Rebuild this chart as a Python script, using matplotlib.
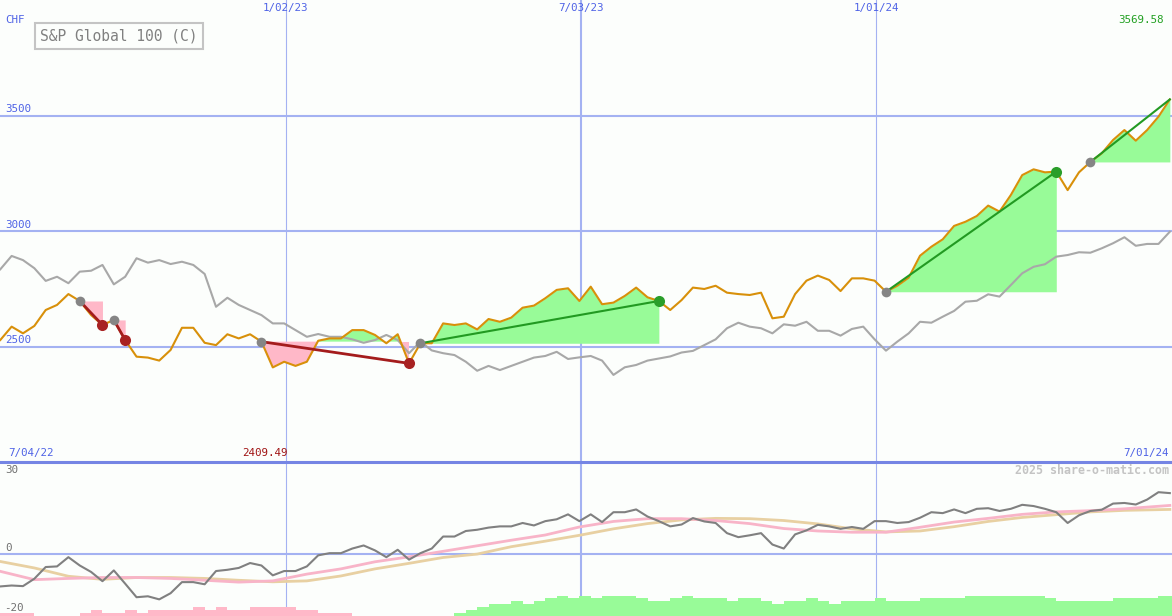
import matplotlib
matplotlib.use("Agg")
import matplotlib.pyplot as plt
import matplotlib.dates as mdates
from matplotlib.lines import Line2D
import numpy as np
import pandas as pd

# weekly closes, S&P Global 100 in CHF
dates = pd.date_range("2022-07-10", periods=104, freq="7D")

price = [2528, 2586, 2557, 2589, 2658, 2680, 2727, 2697, 2636, 2593,
         2615, 2528, 2456, 2452, 2439, 2485, 2581, 2581, 2516, 2506,
         2553, 2535, 2553, 2521, 2409.49, 2434, 2416, 2434, 2525, 2535,
         2535, 2571, 2571, 2550, 2514, 2553, 2427, 2514, 2514, 2600,
         2593, 2600, 2574, 2619, 2607, 2625, 2668, 2677, 2709, 2745,
         2752, 2697, 2759, 2683, 2690, 2719, 2755, 2713, 2697, 2658,
         2701, 2755, 2749, 2763, 2733, 2727, 2723, 2733, 2622, 2629,
         2727, 2785, 2807, 2788, 2740, 2795, 2795, 2785, 2737, 2763,
         2798, 2893, 2932, 2964, 3022, 3040, 3065, 3110, 3084, 3156,
         3242, 3267, 3254, 3257, 3177, 3254, 3299, 3336, 3394, 3437,
         3391, 3437, 3495, 3569.58]

# comparison line (grey) on the same scale
bench = [2834, 2892, 2874, 2839, 2784, 2802, 2774, 2824, 2828, 2853,
         2769, 2802, 2882, 2863, 2874, 2857, 2867, 2853, 2814, 2672,
         2711, 2680, 2658, 2636, 2600, 2600, 2571, 2542, 2554, 2542,
         2542, 2531, 2516, 2528, 2550, 2528, 2471, 2521, 2483, 2471,
         2463, 2434, 2395, 2416, 2398, 2416, 2434, 2452, 2459, 2477,
         2446, 2453, 2459, 2439, 2377, 2410, 2420, 2439, 2448, 2457,
         2474, 2481, 2506, 2531, 2579, 2603, 2586, 2579, 2557, 2596,
         2590, 2607, 2568, 2568, 2547, 2576, 2586, 2531, 2482, 2521,
         2557, 2607, 2603, 2629, 2654, 2694, 2698, 2726, 2716, 2766,
         2817, 2845, 2856, 2889, 2896, 2908, 2906, 2925, 2947, 2973,
         2936, 2944, 2944, 2997]

# lower panel
momentum = [-10.4, -10.1, -10.3, -7.9, -4.1, -3.9, -0.9, -3.6, -5.7, -8.7,
            -5.2, -9.5, -13.9, -13.6, -14.6, -12.6, -9.0, -9.0, -9.7, -5.4,
            -5.0, -4.4, -2.8, -3.6, -6.8, -5.4, -5.4, -3.9, -0.3, 0.4,
            0.4, 1.9, 2.9, 1.3, -0.9, 1.5, -1.7, 0.4, 1.9, 5.8,
            5.8, 7.6, 8.0, 8.7, 9.1, 9.1, 10.2, 9.4, 10.8, 11.4,
            13.0, 10.8, 13.0, 10.5, 13.7, 13.7, 14.6, 12.3, 10.8, 9.1,
            9.7, 11.8, 10.7, 10.2, 6.9, 5.6, 6.2, 6.9, 3.2, 1.9,
            6.5, 7.8, 9.6, 9.1, 8.3, 8.9, 8.3, 10.8, 10.8, 10.2,
            10.5, 11.9, 13.7, 13.4, 14.6, 13.4, 14.8, 15.0, 14.1, 14.8,
            16.1, 15.7, 14.8, 13.7, 10.2, 12.7, 14.1, 14.5, 16.5, 16.7,
            16.2, 17.8, 20.2, 19.9]

ma_idx = [0, 3, 6, 9, 12, 15, 18, 21, 24, 27, 30, 33, 36, 39, 42, 45, 48, 51,
          54, 57, 60, 63, 66, 69, 72, 75, 78, 81, 84, 87, 90, 93, 96, 99, 103]
ma_fast = [-5.5, -8.2, -7.8, -7.5, -7.5, -7.8, -8.4, -9.0, -8.6, -6.4, -4.7,
           -2.4, -0.8, 1.0, 2.8, 4.6, 6.3, 8.9, 10.7, 11.6, 11.6, 11.0, 10.0,
           8.4, 7.6, 7.2, 7.2, 8.8, 10.5, 11.7, 13.0, 13.8, 14.2, 14.8, 15.9]
ma_slow = [-2.3, -4.4, -7.1, -8.1, -7.5, -7.5, -7.8, -8.4, -8.9, -8.6, -7.0,
           -4.7, -2.9, -1.0, 0.1, 2.5, 4.3, 6.2, 8.3, 10.0, 11.2, 11.7, 11.6,
           11.0, 9.9, 8.3, 7.3, 7.6, 9.0, 10.7, 12.0, 12.9, 13.8, 14.3, 14.6]

# histogram at the floor of the lower panel (negative = pink)
bars = [-1, -1, -1, 0, 0, 0, 0, -1, -2, -1,
        -1, -2, -1, -2, -2, -2, -2, -3, -2, -3,
        -2, -2, -3, -3, -3, -3, -2, -2, -1, -1,
        -1, 0, 0, 0, 0, 0, 0, 0, 0, 0,
        1, 2, 3, 3.9, 3.9, 4.8, 3.9, 4.8, 5.7, 6.5,
        5.7, 6.5, 5.7, 6.5, 6.5, 6.5, 5.7, 4.8, 4.8, 5.7,
        6.5, 5.7, 5.7, 5.7, 4.8, 5.7, 5.7, 4.8, 3.9, 4.8,
        4.8, 5.7, 4.8, 3.9, 4.8, 4.8, 4.8, 5.7, 4.8, 4.8,
        4.8, 5.7, 5.7, 5.7, 5.7, 6.5, 6.5, 6.5, 6.5, 6.5,
        6.5, 6.5, 5.7, 4.8, 4.8, 4.8, 4.8, 4.8, 5.7, 5.7,
        5.7, 5.7, 6.5, 6.5]

# (entry week, exit week); None = still open
trades = [(7, 9), (10, 11), (23, 36), (37, 58), (78, 93), (96, None)]

price_ticks = [2500, 3000, 3500]
grid_dates = ["2023-01-02", "2023-07-03", "2024-01-01"]
grid_labels = ["1/02/23", "7/03/23", "1/01/24"]
start_label, end_label = "7/04/22", "7/01/24"

bg = "#fcfefc"
grid_c = "#a4b2f2"
blue_txt = "#4f63e6"
mono = "DejaVu Sans Mono"
W, H = 1172, 616

x = mdates.date2num(dates)
price_a = np.array(price)

fig = plt.figure(figsize=(W / 100, H / 100), dpi=100)
fig.patch.set_facecolor(bg)
ax = fig.add_axes([0, 0.25, 1, 0.75])
ax2 = fig.add_axes([0, 0, 1, 0.25], sharex=ax)
for a in (ax, ax2):
    a.set_facecolor(bg)
    for s in a.spines.values():
        s.set_visible(False)
    a.tick_params(left=False, bottom=False, labelleft=False, labelbottom=False)

ax.set_xlim(mdates.date2num(pd.Timestamp("2022-07-09 20:00")),
            mdates.date2num(pd.Timestamp("2024-07-01 08:00")))
ax.set_ylim(2000, 4000)
ax2.set_ylim(-20, 30)

# grid
for v in price_ticks:
    ax.axhline(v, color=grid_c, lw=1.5, zorder=0)
ax2.axhline(0, color=grid_c, lw=1.5, zorder=0)
for d in grid_dates:
    t = pd.Timestamp(d)
    lw = 1.5 if t.month == 7 else 0.8
    for a in (ax, ax2):
        a.axvline(mdates.date2num(t), color=grid_c, lw=lw, zorder=0)

# separator between the panels
fig.add_artist(Line2D([0, 1], [0.25, 0.25], transform=fig.transFigure,
                      color="#7585e4", lw=2.2, zorder=10))

# trades
for ent, ext in trades:
    end = ext if ext is not None else len(price) - 1
    level = price[ent]
    xs = x[ent:end + 1]
    ps = price_a[ent:end + 1]
    ax.fill_between(xs, level, ps, where=ps >= level, interpolate=True,
                    color="#98fb98", lw=0, zorder=1)
    ax.fill_between(xs, level, ps, where=ps <= level, interpolate=True,
                    color="#ffb8c8", lw=0, zorder=1)
    win = price[end] > level
    line_c = "#229a22" if win else "#a41c1c"
    ax.plot([x[ent], x[end]], [level, price[end]], color=line_c,
            lw=1.5 if win else 2.0, zorder=4)
    ax.plot(x[ent], level, "o", color="#858585", ms=7, mew=0, zorder=5)
    if ext is not None:
        ax.plot(x[ext], price[ext], "o", color="#2a9e2a" if win else "#a82222",
                ms=8, mew=0, zorder=5)

ax.plot(x, bench, color="#a8a8a8", lw=1.5, zorder=2)
ax.plot(x, price, color="#d8900a", lw=1.5, zorder=3)

# lower panel
ax2.bar(x, np.abs(bars), width=7, bottom=-20, align="edge", lw=0,
        color=["#ffb8c8" if b < 0 else "#98fb98" for b in bars], zorder=1)
ax2.plot(x[ma_idx], ma_slow, color="#e8d0a2", lw=2, zorder=2)
ax2.plot(x[ma_idx], ma_fast, color="#f8b4c8", lw=2, zorder=3)
ax2.plot(x, momentum, color="#808080", lw=1.5, zorder=4)


def ftext(px, py, s, **kw):
    kw.setdefault("family", mono)
    kw.setdefault("size", 7.8)
    kw.setdefault("va", "center")
    fig.text(px / W, 1 - py / H, s, **kw)


ftext(5, 20, "CHF", color=blue_txt)
ftext(40, 36, "S&P Global 100 (C)", size=10.5, color="#808080",
      bbox=dict(boxstyle="square,pad=0.35", fc=bg, ec="#c4c4c4", lw=1.5))

ytr = ax.get_yaxis_transform()
for v in price_ticks:
    ax.text(5 / W, v + 6, str(v), transform=ytr, family=mono, size=7.8,
            color=blue_txt, va="bottom")

xtr = ax.get_xaxis_transform()
for d, lab in zip(grid_dates, grid_labels):
    ax.text(mdates.date2num(pd.Timestamp(d)), 1 - 8 / 462, lab, transform=xtr,
            family=mono, size=7.8, color=blue_txt, ha="center", va="center")

ftext(1164, 20, f"{price[-1]:.2f}", color="#22a022", ha="right")
ftext(8, 453, start_label, color=blue_txt)
ftext(1169, 453, end_label, color=blue_txt, ha="right")
imin = int(np.argmin(price_a))
ax.annotate(f"{price[imin]:.2f}", xy=(x[imin], 9 / 462), xycoords=xtr,
            xytext=(-5.4, 0), textcoords="offset points", ha="center",
            va="center", family=mono, size=7.8, color="#a01414")
ftext(1169, 471, "2025 share-o-matic.com", color="#c4c4c4", ha="right",
      size=8.4, weight="bold")

ftext(5, 470, "30", color="#707070")
ftext(5, 548, "0", color="#707070")
ftext(4, 608, "-20", color="#707070")

fig.savefig("out.png", dpi=100, facecolor=bg)
